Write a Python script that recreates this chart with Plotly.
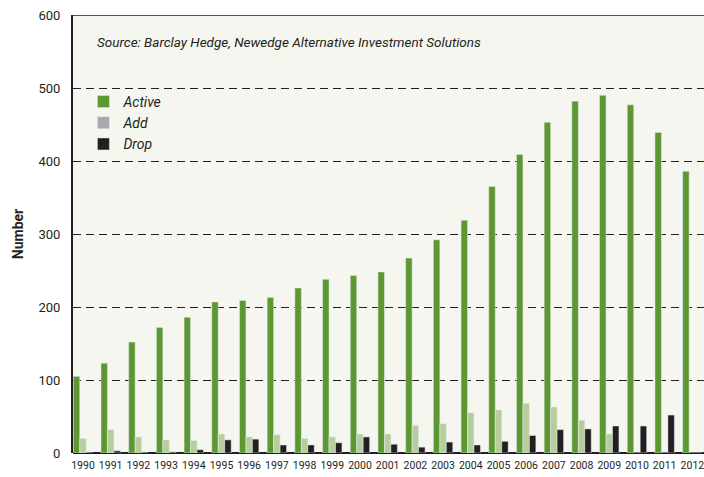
import plotly.graph_objects as go

years = [str(y) for y in range(1990, 2013)]
active = [105, 123, 152, 172, 186, 207, 209, 213, 226, 238, 243, 248, 267, 292, 319, 365, 409, 453, 482, 490, 477, 439, 386]
add = [20, 32, 22, 18, 17, 26, 22, 25, 20, 22, 26, 26, 38, 40, 55, 59, 68, 63, 45, 26, 0, 0, 0]
drop = [0, 3, 0, 1.5, 4.5, 18, 19, 11, 11, 14, 22, 12, 8, 15, 11, 16, 24, 32, 33, 37, 37, 52, 0]
y_ticks = [0, 100, 200, 300, 400, 500, 600]

GREEN = "#5c9732"
LIGHT = "#b6cd9c"
GREY = "#a7a9ac"
DARK = "#231f20"
FONT = "Roboto, sans-serif"

fig = go.Figure()
fig.add_trace(go.Bar(x=years, y=active, name="Active", marker_color=GREEN, offsetgroup="a"))
fig.add_trace(go.Bar(x=years, y=add, name="Add", marker_color=LIGHT, offsetgroup="b", showlegend=False))
fig.add_trace(go.Bar(x=[years[0]], y=[None], name="Add", marker_color=GREY, offsetgroup="b"))
fig.add_trace(go.Bar(x=years, y=drop, name="Drop", marker_color=DARK, offsetgroup="c"))

fig.update_layout(
    width=704, height=477,
    margin=dict(l=73, r=0, t=15, b=24),
    paper_bgcolor="white",
    plot_bgcolor="#f4f6ef",
    barmode="group",
    bargap=0.3,
    bargroupgap=0,
    font=dict(family=FONT, color="#231f20"),
    showlegend=True,
    legend=dict(
        x=0.0165, y=0.838, xanchor="left", yanchor="top",
        bgcolor="rgba(0,0,0,0)",
        font=dict(size=14, family=FONT, style="italic"),
        tracegroupgap=0, itemwidth=30,
    ),
    xaxis=dict(
        type="category",
        range=[-0.36, 22.42],
        showgrid=False,
        showline=False,
        ticks="outside",
        ticklen=2,
        tickcolor="rgba(0,0,0,0)",
        tickfont=dict(size=10.5, family=FONT),
        tickangle=0,
        automargin=False,
        ticklabeloverflow="allow",
    ),
    yaxis=dict(
        range=[0, 600],
        tickvals=y_ticks,
        showgrid=True,
        gridcolor="#231f20",
        griddash="8px,5px",
        gridwidth=1,
        showline=True,
        linecolor="#231f20",
        linewidth=2,
        zeroline=True,
        zerolinecolor="#231f20",
        zerolinewidth=2,
        ticks="outside",
        ticklen=8,
        tickcolor="rgba(0,0,0,0)",
        tickfont=dict(size=13, family=FONT),
        automargin=False,
        ticklabeloverflow="allow",
        title=dict(text="<b>Number</b>", font=dict(size=14, family=FONT), standoff=12),
    ),
    shapes=[dict(type="line", xref="paper", yref="y", x0=0, x1=1, y0=600, y1=600,
                 line=dict(color="#231f20", width=1.5))],
    annotations=[dict(
        text="<i>Source: Barclay Hedge, Newedge Alternative Investment Solutions</i>",
        xref="paper", yref="paper", x=0.035, y=0.938, xanchor="left", yanchor="middle",
        showarrow=False, font=dict(size=13.5, family=FONT, color="#231f20"),
    )],
)

fig.write_html(
    "out.html",
    config={"displayModeBar": False},
    post_script="document.body.style.margin='0';document.body.style.overflow='hidden';",
)
